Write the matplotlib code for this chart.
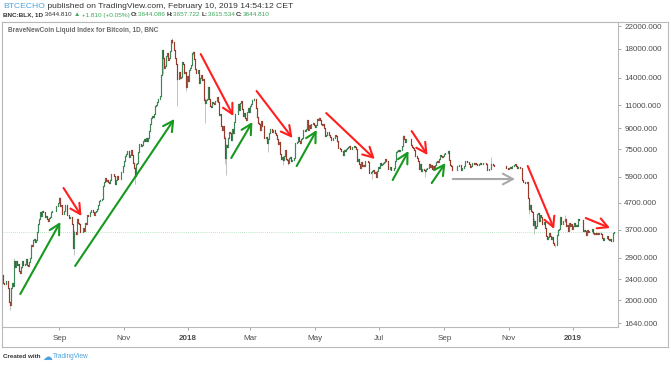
import numpy as np
import pandas as pd
import matplotlib
matplotlib.use('Agg')
import matplotlib.pyplot as plt
import matplotlib.dates as mdates
from matplotlib.ticker import NullLocator

plt.rcParams['font.family'] = ['Liberation Sans', 'DejaVu Sans']

# daily closes of BNC:BLX (one list per month)
close_2017_07 = [2506, 2330, 2310, 2375, 2360, 2230, 1975, 1915, 2228, 2318, 2273, 2817,
                 2667, 2810, 2730, 2754, 2576, 2529, 2671, 2809, 2726, 2757, 2875]
close_2017_08 = [2718, 2710, 2804, 2895, 3252, 3213, 3378, 3419, 3342, 3381,
                 3650, 3884, 4073, 4325, 4181, 4376, 4331, 4160, 4193, 4087,
                 4001, 4100, 4151, 4334, 4371, 4352, 4382, 4382, 4579, 4565, 4703]
close_2017_09 = [4892, 4579, 4583, 4236, 4376, 4597, 4599, 4228, 4226, 4123,
                 4161, 4130, 3882, 3154, 3637, 3625, 3583, 4065, 3925, 3906,
                 3631, 3631, 3779, 3657, 3927, 3893, 4208, 4195, 4174, 4335]
close_2017_10 = [4404, 4409, 4317, 4229, 4329, 4371, 4426, 4611, 4773, 4789,
                 4848, 5429, 5647, 5831, 5679, 5725, 5605, 5590, 5708, 6011,
                 6031, 6008, 5930, 5526, 5750, 5904, 5780, 5753, 6153, 6130, 6468]
close_2017_11 = [6767, 7078, 7207, 7379, 7407, 7022, 7144, 7459, 7143, 6618,
                 6357, 5950, 6559, 6635, 7315, 7871, 7708, 7790, 8036, 8200,
                 8071, 8253, 8038, 8253, 8790, 9330, 9818, 10058, 9888, 10233]
close_2017_12 = [10975, 11074, 11323, 11657, 11916, 14291, 17899, 16569, 15178, 15455,
                 16936, 17415, 16408, 16564, 17706, 19497, 19140, 19114, 17776, 16624,
                 15802, 13831, 14699, 13926, 14027, 16099, 15838, 14606, 14656, 12952, 14156]
close_2018_01 = [13657, 14982, 15201, 15599, 17429, 17527, 16477, 15170, 14595, 14973,
                 13405, 13980, 14360, 13772, 13819, 11490, 11188, 11474, 11607, 12899,
                 11600, 10931, 10868, 11359, 11259, 11171, 11441, 11786, 11296, 10106, 10221]
close_2018_02 = [9170, 8830, 9174, 8277, 6955, 7754, 7621, 8265, 8736, 8621,
                 8129, 8926, 8598, 9494, 10166, 10233, 11112, 10551, 11225, 11403,
                 10690, 10005, 10301, 9813, 9664, 10366, 10725, 10397]
close_2018_03 = [10951, 11086, 11489, 11512, 11573, 10780, 9965, 9395, 9337, 8866,
                 9578, 9205, 9194, 8270, 8300, 8339, 7916, 8223, 8630, 8913,
                 8929, 8728, 8879, 8668, 8495, 8209, 7833, 7954, 7165, 6891, 6973]
close_2018_04 = [6845, 7083, 7456, 6853, 6811, 6636, 6911, 7023, 6770, 6834,
                 6968, 7889, 7895, 7986, 8329, 8058, 7902, 8163, 8294, 8845,
                 8895, 8802, 8930, 9697, 8845, 9281, 8987, 9348, 9419, 9240]
close_2018_05 = [9119, 9235, 9743, 9700, 9858, 9654, 9373, 9234, 9325, 9043,
                 8441, 8504, 8723, 8716, 8510, 8368, 8094, 8250, 8247, 8513,
                 8419, 8041, 7557, 7587, 7480, 7355, 7368, 7136, 7472, 7406, 7494]
close_2018_06 = [7541, 7643, 7720, 7514, 7633, 7653, 7679, 7624, 7531, 6786,
                 6907, 6582, 6349, 6675, 6457, 6550, 6499, 6734, 6769, 6776,
                 6730, 6083, 6162, 6173, 6249, 6094, 6157, 5903, 6218, 6404]
close_2018_07 = [6385, 6614, 6529, 6597, 6639, 6673, 6857, 6773, 6741, 6329,
                 6394, 6228, 6238, 6276, 6359, 6741, 7321, 7370, 7466, 7354,
                 7419, 7418, 7711, 8424, 8181, 7951, 8165, 8192, 8218, 8180, 7780]
close_2018_08 = [7625, 7567, 7434, 7032, 7068, 6951, 6753, 6305, 6568, 6184,
                 6295, 6323, 6262, 6199, 6308, 6334, 6580, 6424, 6506, 6308,
                 6488, 6376, 6534, 6719, 6763, 6708, 6884, 7097, 7048, 6979, 7037]
close_2018_09 = [7193, 7273, 7260, 7362, 6792, 6529, 6467, 6225, 6239, 6276,
                 6239, 6276, 6485, 6487, 6516, 6510, 6260, 6334, 6354, 6499,
                 6735, 6710, 6700, 6598, 6434, 6467, 6644, 6644, 6602, 6626]
close_2018_10 = [6590, 6556, 6502, 6577, 6622, 6588, 6602, 6652, 6642, 6585,
                 6256, 6275, 6285, 6291, 6596, 6596, 6544, 6476, 6465, 6489,
                 6482, 6487, 6475, 6495, 6476, 6474, 6480, 6486, 6332, 6334, 6317]
close_2018_11 = [6377, 6388, 6361, 6485, 6449, 6530, 6592, 6452, 6385, 6409,
                 6411, 6372, 6338, 5738, 5648, 5575, 5554, 5623, 4871, 4451,
                 4602, 4348, 4331, 3864, 4009, 3780, 3820, 4257, 4278, 4017]
close_2018_12 = [4214, 4139, 3894, 3957, 3753, 3521, 3419, 3476, 3614, 3502,
                 3424, 3487, 3313, 3242, 3236, 3252, 3545, 3696, 3745, 4134,
                 3897, 4014, 3998, 4078, 3815, 3857, 3654, 3923, 3821, 3913, 3742]
close_2019_01 = [3843, 3943, 3837, 3858, 3845, 4076, 4026, 4030, 4035, 3678,
                 3687, 3661, 3553, 3706, 3630, 3656, 3679, 3657, 3728, 3601,
                 3577, 3611, 3585, 3601, 3584, 3600, 3568, 3438, 3400, 3457, 3434]
close_2019_02 = [3462, 3505, 3414, 3402, 3416, 3367, 3359, 3600, 3644.086, 3644.81]

month_starts = ['2017-07-09', '2017-08-01', '2017-09-01', '2017-10-01', '2017-11-01',
                '2017-12-01', '2018-01-01', '2018-02-01', '2018-03-01', '2018-04-01',
                '2018-05-01', '2018-06-01', '2018-07-01', '2018-08-01', '2018-09-01',
                '2018-10-01', '2018-11-01', '2018-12-01', '2019-01-01', '2019-02-01']
month_closes = [close_2017_07, close_2017_08, close_2017_09, close_2017_10, close_2017_11,
                close_2017_12, close_2018_01, close_2018_02, close_2018_03, close_2018_04,
                close_2018_05, close_2018_06, close_2018_07, close_2018_08, close_2018_09,
                close_2018_10, close_2018_11, close_2018_12, close_2019_01, close_2019_02]

# visible long wicks
wick_dates = ['2017-07-16', '2017-07-20', '2017-09-01', '2017-09-14', '2017-09-15',
              '2017-11-12', '2017-12-08', '2017-12-17', '2017-12-22', '2017-12-30',
              '2018-01-06', '2018-01-17', '2018-02-05', '2018-02-06', '2018-03-05',
              '2018-03-18', '2018-04-01', '2018-04-06', '2018-05-05', '2018-06-24',
              '2018-07-24', '2018-08-14', '2018-09-04', '2018-10-15', '2018-11-20',
              '2018-11-25', '2018-12-15', '2018-12-24']
wick_lows = [1840, 2270, 4700, 3150, 2980, 5520, 14400, 18800, 10900, 12500,
             17150, 9400, 6600, 6000, 11400, 7320, 6530, 6530, 9700, 5800,
             7700, 5880, 7230, 6280, 4250, 3560, 3180, 3980]
wick_highs = [1990, 2900, 4950, 3880, 3700, 6400, 17900, 19870, 15800, 14700,
              17700, 11700, 8400, 7850, 11700, 8260, 7050, 6860, 9970, 6250,
              8490, 6250, 7390, 7000, 4900, 4100, 3260, 4230]

last_price = 3644.81

# annotation arrows: start date, start price, end date, end price
arrow_start_dates = ['2017-09-05', '2018-01-13', '2018-03-07', '2018-05-12', '2018-08-01',
                     '2018-11-19', '2019-01-13',
                     '2017-07-26', '2017-09-16', '2018-02-11', '2018-04-14', '2018-07-14',
                     '2018-08-20', '2018-09-09']
arrow_start_prices = [5340, 17220, 12460, 10280, 8780, 6470, 4106,
                      2113, 2700, 6940, 6470, 5725, 5576, 5775]
arrow_end_dates = ['2017-09-22', '2018-02-13', '2018-04-10', '2018-06-27', '2018-08-16',
                   '2018-12-14', '2019-02-05',
                   '2017-09-02', '2017-12-19', '2018-03-03', '2018-05-03', '2018-07-29',
                   '2018-09-02', '2018-11-07']
arrow_end_prices = [4180, 10015, 8266, 6880, 7123, 3731, 3764,
                    3966, 9760, 9507, 8863, 7377, 6642, 5775]
arrow_kinds = ['down'] * 7 + ['up'] * 6 + ['flat']

y_ticks = [1640, 2000, 2400, 2900, 3700, 4700, 5900, 7500, 9000, 11000, 14000, 18000, 22000]
x_tick_dates = ['2017-09-01', '2017-11-01', '2018-01-01', '2018-03-01', '2018-05-01',
                '2018-07-01', '2018-09-01', '2018-11-01', '2019-01-01']
x_tick_labels = ['Sep', 'Nov', '2018', 'Mar', 'May', 'Jul', 'Sep', 'Nov', '2019']

# ---- build ohlc
dates = []
closes = []
for start, vals in zip(month_starts, month_closes):
    dates += list(pd.date_range(start, periods=len(vals), freq='D'))
    closes += vals
x = mdates.date2num(pd.DatetimeIndex(dates).to_pydatetime())
closes = np.array(closes, dtype=float)
opens = np.r_[closes[0], closes[:-1]]
lows = np.minimum(opens, closes)
highs = np.maximum(opens, closes)
for d, lo, hi in zip(wick_dates, wick_lows, wick_highs):
    i = np.where(x == mdates.datestr2num(d))[0]
    lows[i] = np.minimum(lows[i], lo)
    highs[i] = np.maximum(highs[i], hi)

W, H = 671, 366
fig = plt.figure(figsize=(W / 100, H / 100), dpi=100)
fig.patch.set_facecolor('white')

frame_c = '#b9b9b9'
# outer frame incl. price & time scales
bg = fig.add_axes([2 / W, 19 / H, 666 / W, 325 / H])
bg.set_xticks([])
bg.set_yticks([])
for s in bg.spines.values():
    s.set_color(frame_c)
    s.set_linewidth(0.8)

ax = fig.add_axes([2 / W, 39 / H, 616 / W, 305 / H])
ax.set_facecolor('white')
ax.set_yscale('log')
ax.set_ylim(1584, 22785)
ax.set_xlim(mdates.datestr2num('2017-07-08 16:00'), mdates.datestr2num('2019-02-12 14:00'))

ax.axhline(last_price, color='#a6dbb6', lw=0.6, ls=(0, (1, 1.5)), zorder=1)

ax.vlines(x, lows, highs, colors='#b3b3b3', lw=0.55, zorder=2)
up = closes >= opens
body_cols = np.where(up, '#3f8558', '#973a2b')
bodies = ax.vlines(x, np.minimum(opens, closes), np.maximum(opens, closes),
                   colors=body_cols, lw=0.85, zorder=3)
bodies.set_capstyle('projecting')

kind_color = {'down': '#ff1f1f', 'up': '#17981f', 'flat': '#a9a9a9'}
for sd, sp, ed, ep, k in zip(arrow_start_dates, arrow_start_prices,
                             arrow_end_dates, arrow_end_prices, arrow_kinds):
    ax.annotate('', xy=(mdates.datestr2num(ed), ep),
                xytext=(mdates.datestr2num(sd), sp),
                arrowprops=dict(arrowstyle='->,head_length=0.6,head_width=0.32',
                                color=kind_color[k], lw=1.5, shrinkA=0, shrinkB=0,
                                mutation_scale=12),
                zorder=5)

for s in ax.spines.values():
    s.set_color(frame_c)
    s.set_linewidth(0.8)

lab_c = '#4d4d4d'
ax.yaxis.tick_right()
ax.yaxis.set_minor_locator(NullLocator())
ax.set_yticks(y_ticks)
ax.set_yticklabels([f'{v:.3f}' for v in y_ticks])
ax.tick_params(axis='y', which='major', direction='out', length=2.5, width=0.6,
               color='#999999', pad=2, labelsize=5.8, labelcolor=lab_c)

ax.set_xticks([mdates.datestr2num(d) for d in x_tick_dates])
ax.set_xticklabels(x_tick_labels)
ax.tick_params(axis='x', which='major', direction='out', length=2.5, width=0.6,
               color='#999999', pad=3, labelsize=5.8, labelcolor=lab_c)
ax.xaxis.set_minor_locator(NullLocator())
for t in ax.get_xticklabels():
    if t.get_text().isdigit():
        t.set_fontweight('bold')

# ---- texts
renderer = fig.canvas.get_renderer()


def put(xp, yp, s, color, weight='normal', size=5.8):
    t = fig.text(xp / W, 1 - yp / H, s, color=color, fontsize=size,
                 fontweight=weight, va='center', ha='left')
    bb = t.get_window_extent(renderer=renderer)
    return xp + bb.width


dark = '#333333'
green = '#3aa757'
blue = '#4da3dd'
xp = put(3, 6, 'BTCECHO', blue, size=6.1)
put(xp, 6, ' published on TradingView.com, February 10, 2019 14:54:12 CET', dark, size=6.1)

xp = 3
for s, c, w in [('BNC:BLX, 1D', dark, 'bold'), (' 3644.810 ', dark, 'normal'),
                ('\u25b2', green, 'normal'), (' +1.810 (+0.05%) ', green, 'normal'),
                ('O:', dark, 'bold'), ('3644.086 ', green, 'normal'),
                ('H:', dark, 'bold'), ('3657.722 ', green, 'normal'),
                ('L:', dark, 'bold'), ('3615.534 ', green, 'normal'),
                ('C:', dark, 'bold'), ('3644.810', green, 'normal')]:
    xp = put(xp, 15, s, c, w, 4.6)

put(8, 31, 'BraveNewCoin Liquid Index for Bitcoin, 1D, BNC', '#6a6a6a', 'bold', 4.7)

xp = put(3, 357, 'Created with ', dark, 'bold', 4.5)
xp = put(xp, 357, '\u2601', blue, 'normal', 7)
put(xp + 1, 357, 'TradingView', blue, 'normal', 4.7)

fig.savefig('out.png', dpi=100, facecolor='white')
